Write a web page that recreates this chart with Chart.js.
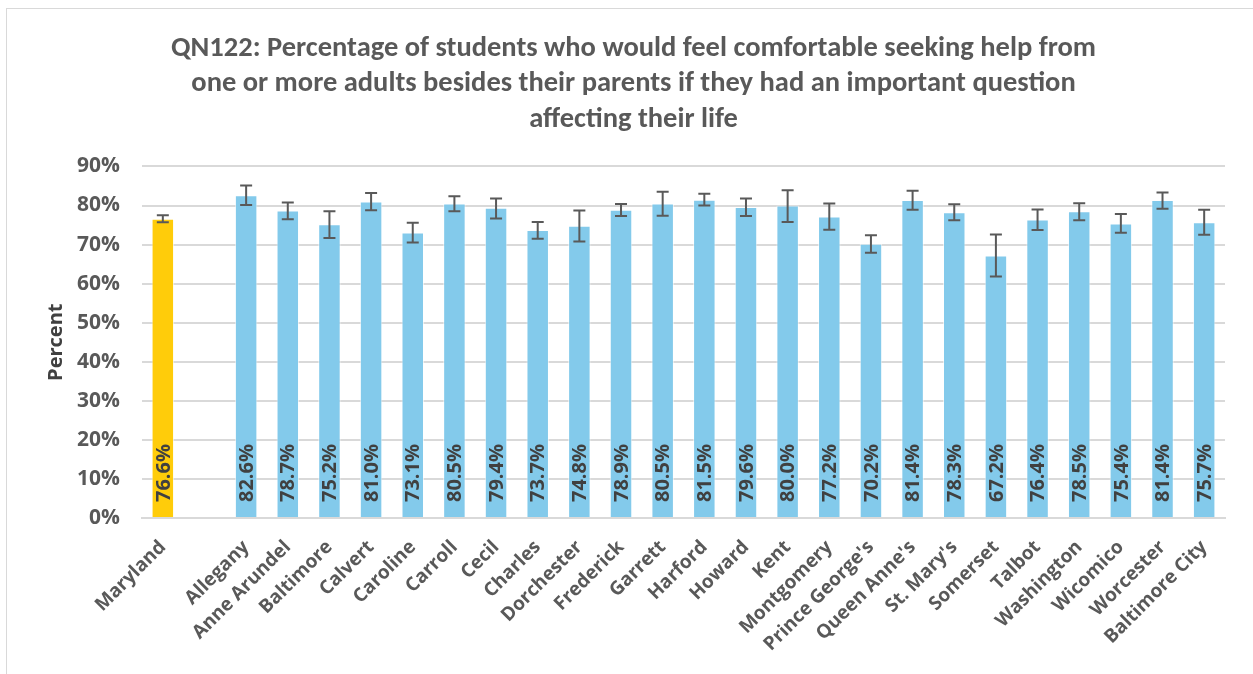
<!DOCTYPE html>
<html><head><meta charset="utf-8">
<script src="https://cdn.jsdelivr.net/npm/chart.js@4.4.1/dist/chart.umd.min.js"></script>
<style>
html,body{margin:0;padding:0;background:#fff;overflow:hidden}
#wrap{position:absolute;left:0;top:0;width:1253px;height:674px}
#frame{position:absolute;left:6px;top:8px;width:1260px;height:700px;border:1px solid #d9d9d9;box-sizing:border-box;pointer-events:none}
</style></head>
<body>
<div id="wrap"><canvas id="c" width="1253" height="674"></canvas></div>
<div id="frame"></div>
<script>
const categories = ["Maryland","","Allegany","Anne Arundel","Baltimore","Calvert","Caroline","Carroll","Cecil","Charles","Dorchester","Frederick","Garrett","Harford","Howard","Kent","Montgomery","Prince George's","Queen Anne's","St. Mary's","Somerset","Talbot","Washington","Wicomico","Worcester","Baltimore City"];
const values = [76.6,null,82.6,78.7,75.2,81.0,73.1,80.5,79.4,73.7,74.8,78.9,80.5,81.5,79.6,80.0,77.2,70.2,81.4,78.3,67.2,76.4,78.5,75.4,81.4,75.7];
const lowerCI = [75.7,null,80.1,76.5,71.7,78.8,70.5,78.5,76.7,71.5,70.8,77.3,77.4,80.0,77.3,75.8,73.8,67.9,78.9,76.2,61.8,73.7,76.2,73.0,79.2,72.5];
const upperCI = [77.5,null,85.1,80.8,78.5,83.2,75.6,82.4,81.8,75.8,78.7,80.4,83.5,83.0,81.8,83.9,80.5,72.4,83.8,80.3,72.6,79.0,80.6,77.8,83.3,78.9];
const yTicks = [0,10,20,30,40,50,60,70,80,90];
const titleLines = ["QN122: Percentage of students who would feel comfortable seeking help from","one or more adults besides their parents if they had an important question","affecting their life"];

const FONT = "'Open Sans', sans-serif";
const TFONT = "Carlito, Lato, sans-serif";
const barColors = categories.map((c,i)=> i===0 ? '#FFCC0A' : '#83CAEB');

const errPlugin = {
  id:'errbars',
  afterDatasetsDraw(chart){
    const ctx = chart.ctx, y = chart.scales.y;
    const meta = chart.getDatasetMeta(0);
    ctx.save();
    meta.data.forEach((bar,i)=>{
      if(values[i]==null) return;
      ctx.save();
      ctx.translate(bar.x, y.getPixelForValue(0) - 16);
      ctx.rotate(-Math.PI/2);
      ctx.font = "bold 20px " + FONT;
      ctx.fillStyle = '#404040';
      ctx.textAlign='left'; ctx.textBaseline='middle';
      ctx.fillText(values[i].toFixed(1)+'%',0,1);
      ctx.restore();
    });
    ctx.strokeStyle = '#595959';
    ctx.lineWidth = 2;
    meta.data.forEach((bar,i)=>{
      if(values[i]==null) return;
      const yt = y.getPixelForValue(upperCI[i]), yb = y.getPixelForValue(lowerCI[i]);
      const cx = bar.x, w = 6;
      ctx.beginPath();
      ctx.moveTo(cx,yt); ctx.lineTo(cx,yb);
      ctx.moveTo(cx-w,yt); ctx.lineTo(cx+w,yt);
      ctx.moveTo(cx-w,yb); ctx.lineTo(cx+w,yb);
      ctx.stroke();
    });
    ctx.restore();
  }
};

new Chart(document.getElementById('c'),{
  type:'bar',
  data:{labels:categories,datasets:[{data:values,backgroundColor:barColors,borderColor:'rgba(255,255,255,0.6)',borderWidth:1,barPercentage:0.54,categoryPercentage:1}]},
  options:{
    responsive:false,animation:false,
    layout:{padding:{left:42,right:28,top:12,bottom:0}},
    plugins:{
      legend:{display:false},tooltip:{enabled:false},
      title:{display:true,text:titleLines,color:'#595959',font:{family:TFONT,size:28.5,weight:'bold',lineHeight:1.245},padding:{top:19,bottom:29}}
    },
    scales:{
      x:{grid:{display:false},border:{color:'#d9d9d9',width:2},
        afterFit(s){s.height=156;},
        ticks:{color:'#595959',font:{family:FONT,size:19,weight:'bold'},maxRotation:45,minRotation:45,autoSkip:false,padding:10,labelOffset:0}},
      y:{min:0,max:90,
        afterFit(s){s.width=100;},
        afterBuildTicks(s){s.ticks = yTicks.map(v=>({value:v}));},
        grid:{color:'#d9d9d9',lineWidth:2,drawTicks:false},border:{display:false},
        ticks:{color:'#595959',font:{family:FONT,size:21,weight:'bold'},padding:22,callback:v=>v+'%'},
        title:{display:true,text:'Percent',color:'#404040',font:{family:FONT,size:20,weight:'bold'},padding:{top:2,bottom:10}}}
    }
  },
  plugins:[errPlugin]
});
</script>
</body></html>
